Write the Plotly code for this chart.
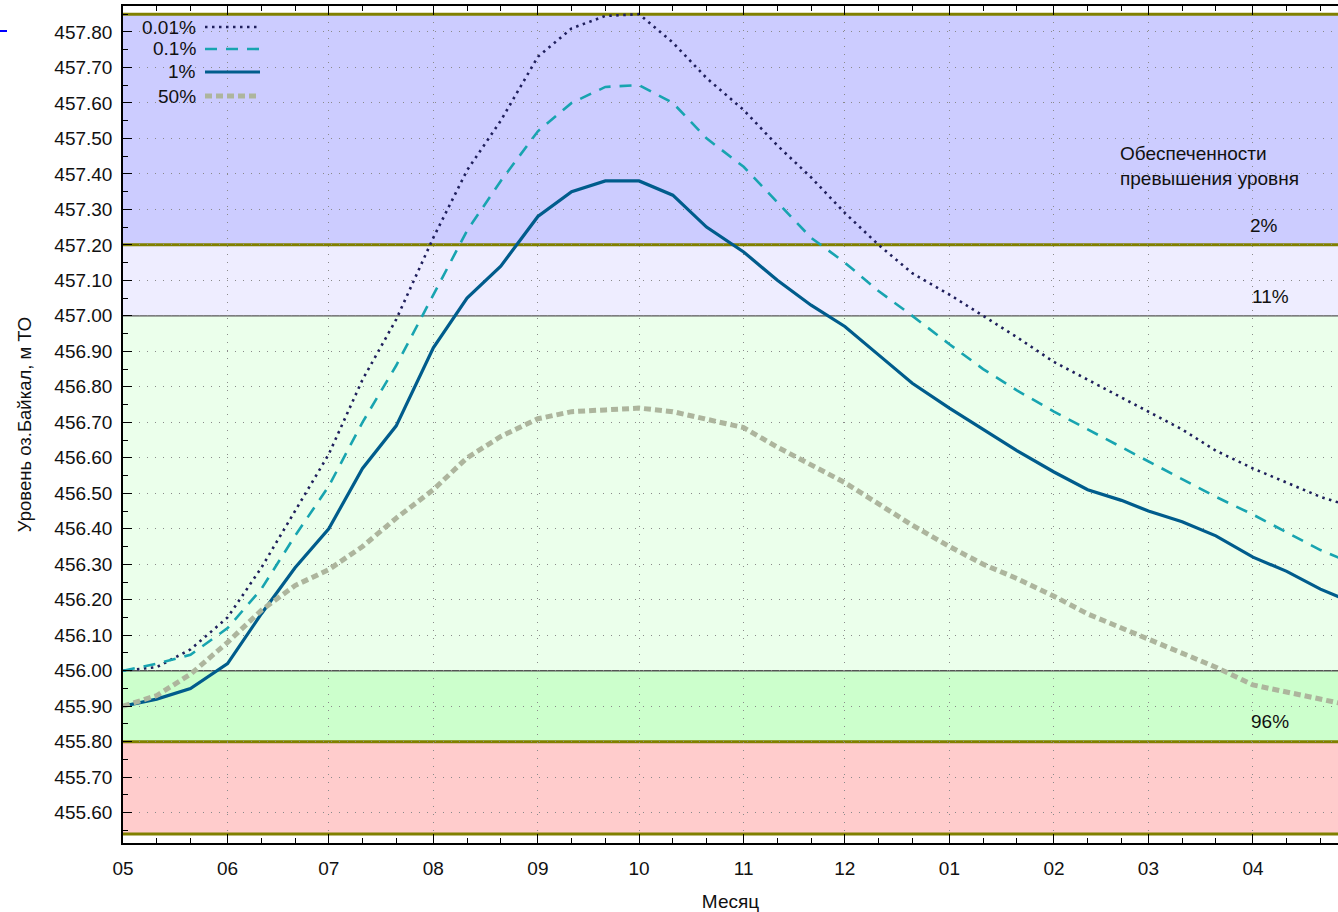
import plotly.graph_objects as go

# ---------------- data ----------------
dates = [
    "2021-05-01", "2021-05-11", "2021-05-21", "2021-06-01", "2021-06-11", "2021-06-21",
    "2021-07-01", "2021-07-11", "2021-07-21", "2021-08-01", "2021-08-11", "2021-08-21",
    "2021-09-01", "2021-09-11", "2021-09-21", "2021-10-01", "2021-10-11", "2021-10-21",
    "2021-11-01", "2021-11-11", "2021-11-21", "2021-12-01", "2021-12-11", "2021-12-21",
    "2022-01-01", "2022-01-11", "2022-01-21", "2022-02-01", "2022-02-11", "2022-02-21",
    "2022-03-01", "2022-03-11", "2022-03-21", "2022-04-01", "2022-04-11", "2022-04-21",
    "2022-05-01",
]

p_001 = [456.00, 456.01, 456.06, 456.15, 456.29, 456.45, 456.61, 456.82, 456.99,
         457.22, 457.41, 457.55, 457.73, 457.81, 457.845, 457.85, 457.77, 457.67,
         457.58, 457.48, 457.39, 457.29, 457.20, 457.12, 457.06, 457.00, 456.94,
         456.87, 456.82, 456.77, 456.73, 456.68, 456.62, 456.57, 456.53, 456.49, 456.46]

p_01 = [456.00, 456.02, 456.045, 456.12, 456.23, 456.38, 456.52, 456.70, 456.86,
        457.06, 457.24, 457.38, 457.52, 457.60, 457.645, 457.65, 457.60, 457.50,
        457.42, 457.32, 457.22, 457.15, 457.07, 457.00, 456.92, 456.85, 456.79,
        456.73, 456.68, 456.63, 456.59, 456.54, 456.49, 456.44, 456.39, 456.34, 456.30]

p_1 = [455.90, 455.92, 455.95, 456.02, 456.16, 456.29, 456.40, 456.57, 456.69,
       456.91, 457.05, 457.14, 457.28, 457.35, 457.38, 457.38, 457.34, 457.25,
       457.18, 457.10, 457.03, 456.97, 456.89, 456.81, 456.74, 456.68, 456.62,
       456.56, 456.51, 456.48, 456.45, 456.42, 456.38, 456.32, 456.28, 456.23, 456.19]

p_50 = [455.90, 455.93, 455.99, 456.08, 456.17, 456.24, 456.285, 456.35, 456.43,
        456.51, 456.60, 456.66, 456.71, 456.73, 456.735, 456.74, 456.73, 456.71,
        456.685, 456.63, 456.58, 456.53, 456.47, 456.41, 456.35, 456.30, 456.26,
        456.21, 456.16, 456.12, 456.09, 456.05, 456.01, 455.96, 455.94, 455.92, 455.90]

series_names = ["0.01%", "0.1%", "1%", "50%"]
series_values = [p_001, p_01, p_1, p_50]

# level bands (lower, upper) and their labels
band_bounds = [455.54, 455.80, 456.00, 457.00, 457.20, 457.85]
band_labels = ["96%", "11%", "2%"]

month_ticks = ["2021-05-01", "2021-06-01", "2021-07-01", "2021-08-01", "2021-09-01",
               "2021-10-01", "2021-11-01", "2021-12-01", "2022-01-01", "2022-02-01",
               "2022-03-01", "2022-04-01"]
dekad_ticks = [d for d in dates if not d.endswith("-01")]

# ---------------- styles ----------------
FONT = "Liberation Sans, Arial, sans-serif"
FS = 19
styles = [
    dict(color="#1f1f5c", width=2.6, dash="2.5px,4.5px"),
    dict(color="#18a4b0", width=2.6, dash="12px,9px"),
    dict(color="#005c8c", width=3.2, dash="solid"),
    dict(color="#adb59d", width=5, dash="7px,4px"),
]
band_colors = ["#ffcccc", "#ccffcc", "#ebffeb", "#eeedff", "#ccccff"]
bound_line = {455.54: ("#808000", 3), 455.80: ("#808000", 3), 456.00: ("#555555", 1.3),
              457.00: ("#555555", 1.3), 457.20: ("#808000", 3), 457.85: ("#808000", 3)}

fig = go.Figure()
for name, vals, st in zip(series_names, series_values, styles):
    fig.add_trace(go.Scatter(x=dates, y=vals, name=name, mode="lines",
                             line=dict(color=st["color"], width=st["width"], dash=st["dash"]),
                             showlegend=False))

shapes = []
for i, col in enumerate(band_colors):
    shapes.append(dict(type="rect", xref="paper", yref="y", x0=0, x1=1,
                       y0=band_bounds[i], y1=band_bounds[i + 1],
                       fillcolor=col, line=dict(width=0), layer="below"))
for b in band_bounds:
    c, w = bound_line[b]
    shapes.append(dict(type="line", xref="paper", yref="y", x0=0, x1=1, y0=b, y1=b,
                       line=dict(color=c, width=w), layer="between"))

# custom gnuplot-like legend (text left, sample right)
PL, PW, PT, PH = 123, 1215, 6, 837
def px(x):
    return (x - PL) / PW
def py(y):
    return (PT + PH - y) / PH

annotations = []
leg_y = [27, 49, 72, 96]
for name, st, yy in zip(series_names, styles, leg_y):
    annotations.append(dict(xref="paper", yref="paper", x=px(198), y=py(yy),
                            text=name, showarrow=False, xanchor="right", yanchor="middle",
                            font=dict(family=FONT, size=FS, color="#111")))
    shapes.append(dict(type="line", xref="paper", yref="paper",
                       x0=px(205), x1=px(260), y0=py(yy), y1=py(yy),
                       line=dict(color=st["color"], width=st["width"], dash=st["dash"]),
                       layer="above"))

# small blue mark at top-left
shapes.append(dict(type="line", xref="paper", yref="paper", x0=px(0), x1=px(7),
                   y0=py(31), y1=py(31), line=dict(color="#0000ff", width=2), layer="above"))

annotations.append(dict(xref="paper", yref="paper", x=px(1118), y=py(166.5),
                        text="Обеспеченности<br>превышения уровня", showarrow=False,
                        xanchor="left", yanchor="middle", align="left",
                        font=dict(family=FONT, size=FS, color="#111")))
for lab, yy, xx in zip(band_labels[::-1], [226, 297], [1264, 1270]):
    annotations.append(dict(xref="paper", yref="paper", x=px(xx), y=py(yy), text=lab,
                            showarrow=False, xanchor="center", yanchor="middle",
                            font=dict(family=FONT, size=FS, color="#111")))
annotations.append(dict(xref="paper", yref="paper", x=px(1270), y=py(722), text=band_labels[0],
                        showarrow=False, xanchor="center", yanchor="middle",
                        font=dict(family=FONT, size=FS, color="#111")))

GRID = dict(showgrid=True, gridcolor="#8a8a8a", gridwidth=1, griddash="1px,7px")

fig.update_layout(
    width=1338, height=912,
    margin=dict(l=PL, r=0, t=PT, b=912 - PT - PH, autoexpand=False),
    paper_bgcolor="white", plot_bgcolor="white",
    shapes=shapes, annotations=annotations,
    font=dict(family=FONT, size=FS, color="#111"),
    xaxis=dict(
        type="date", range=["2021-05-01", "2022-04-26 05:00"],
        tickmode="array", tickvals=month_ticks, tickformat="%m",
        ticks="inside", ticklen=9, tickwidth=1, tickcolor="#000",
        showline=True, linecolor="#000", linewidth=1.5, mirror="ticks",
        minor=dict(tickmode="array", tickvals=dekad_ticks, ticks="inside",
                   ticklen=5, tickcolor="#000", showgrid=False),
        title=dict(text="Месяц", font=dict(family=FONT, size=FS, color="#111"), standoff=22),
        tickfont=dict(family=FONT, size=FS, color="#111"),
        ticklabelstandoff=7,
        zeroline=False, **GRID,
    ),
    yaxis=dict(
        range=[455.5146, 457.873], tick0=455.6, dtick=0.1, tickformat=".2f",
        ticks="inside", ticklen=9, tickwidth=1, tickcolor="#000",
        showline=True, linecolor="#000", linewidth=1.5,
        minor=dict(dtick=0.05, tick0=455.55, ticks="inside", ticklen=5,
                   tickcolor="#000", showgrid=False),
        title=dict(text="Уровень оз.Байкал, м ТО",
                   font=dict(family=FONT, size=18.5, color="#111"), standoff=18),
        tickfont=dict(family=FONT, size=FS, color="#111"),
        ticklabelstandoff=5,
        zeroline=False, **GRID,
    ),
)

fig.write_html("out.html", config={"displayModeBar": False},
               post_script="document.body.style.margin='0';")
